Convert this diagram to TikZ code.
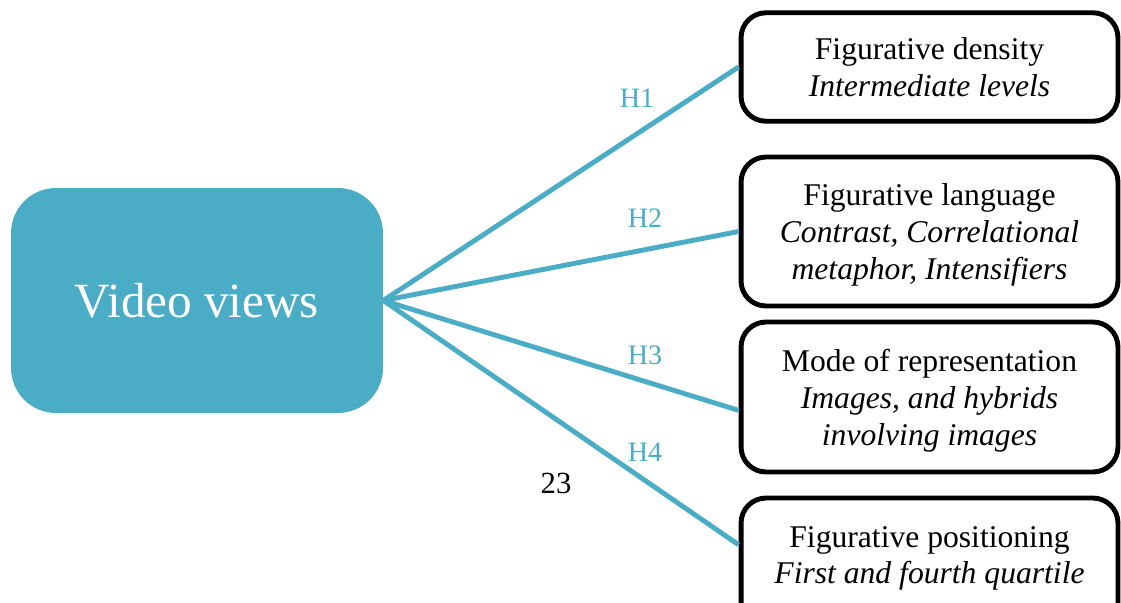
\documentclass[tikz,border=0pt]{standalone}
\usepackage{fontspec}
\setmainfont{Liberation Serif}
\definecolor{viewblue}{HTML}{4BACC6}
\tikzset{
  factor/.style={draw, line width=2.8pt, rounded corners=0.5cm, align=center,
    font=\fontsize{18}{21}\selectfont, minimum width=7.54cm, inner sep=0pt},
  link/.style={draw=viewblue, line width=2.8pt},
  hyp/.style={text=viewblue, font=\fontsize{16}{19}\selectfont}
}
\begin{document}
\begin{tikzpicture}[x=0.02cm, y=-0.02cm]
\useasboundingbox (0,0) rectangle (1121,602);
\clip (0,0) rectangle (1121,602);
% outcome
\node[fill=viewblue, rounded corners=0.9cm, minimum width=7.44cm, minimum height=4.5cm,
  text=white, font=\fontsize{28}{34}\selectfont] (vv) at (197,300.5) {Video views};
% predictors
\node[factor, minimum height=2.17cm] (dens) at (929.5,67) {Figurative density\\\textit{Intermediate levels}};
\node[factor, minimum height=2.98cm, text depth=-0.04cm] (lang) at (929.5,231.5) {Figurative language\\\textit{Contrast, Correlational}\\\textit{metaphor, Intensifiers}};
\node[factor, minimum height=3cm, text depth=-0.04cm] (mode) at (929.5,397) {Mode of representation\\\textit{Images, and hybrids}\\\textit{involving images}};
\node[factor, minimum height=3.08cm, text depth=0.8cm] (posi) at (929.5,575) {Figurative positioning\\\textit{First and fourth quartile}};
% hypotheses
\draw[link] (vv.east) -- (dens.west);
\draw[link] (vv.east) -- (lang.west);
\draw[link] (vv.east) -- (mode.184);
\draw[link] (vv.east) -- (posi.171);
\node[hyp] (h1) at (637,98) {H1};
\node[hyp] (h2) at (645,218) {H2};
\node[hyp] (h3) at (645,355) {H3};
\node[hyp] (h4) at (645,452) {H4};
\node[font=\fontsize{17.5}{20}\selectfont] (pg) at (556,483) {23};
\end{tikzpicture}
\end{document}
